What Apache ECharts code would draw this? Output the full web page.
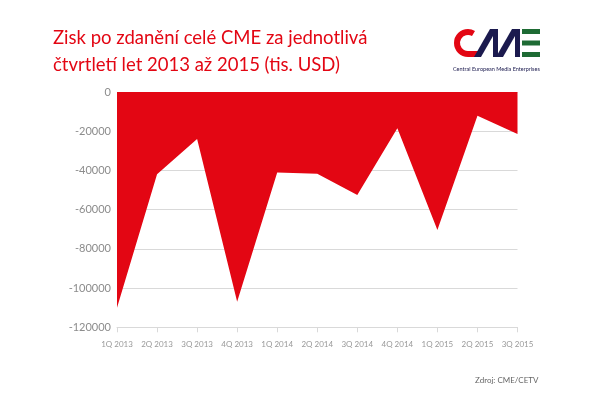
<!DOCTYPE html>
<html>
<head>
<meta charset="utf-8">
<script src="https://cdn.jsdelivr.net/npm/echarts@6/dist/echarts.min.js"></script>
<style>html,body{margin:0;padding:0;background:#fff}#c{width:600px;height:396px}</style>
</head>
<body>
<div id="c"></div>
<script>
const categories = ['1Q 2013','2Q 2013','3Q 2013','4Q 2013','1Q 2014','2Q 2014','3Q 2014','4Q 2014','1Q 2015','2Q 2015','3Q 2015'];
const profit = [-110000,-42000,-24000,-107000,-41000,-41700,-52500,-18500,-70400,-12100,-21400];
const yTicks = {min:-120000, max:0, interval:20000};
const titleText = 'Zisk po zdanění celé CME za jednotlivá\nčtvrtletí let 2013 až 2015 (tis. USD)';
const sourceText = 'Zdroj: CME/CETV';
const logoText = 'Central European Media Enterprises';

const red = '#E30613', navy = '#1B1A4E', green = '#1E6B34';
const chart = echarts.init(document.getElementById('c'), null, {renderer:'canvas'});
chart.setOption({
  animation:false,
  backgroundColor:'#fff',
  title:{text:titleText,left:48,top:20,textStyle:{color:red,fontFamily:'Lato',fontSize:18.5,fontWeight:'normal',lineHeight:27}},
  grid:{left:117,right:82.5,top:92,bottom:68.7,containLabel:false},
  xAxis:{type:'category',data:categories,boundaryGap:false,
    axisLine:{onZero:false,lineStyle:{color:'#d9d9d9'}},
    axisTick:{show:true,length:5,lineStyle:{color:'#d9d9d9'}},
    axisLabel:{color:'#999',fontFamily:'Lato',fontSize:8,margin:13,interval:0}},
  yAxis:{type:'value',min:yTicks.min,max:yTicks.max,interval:yTicks.interval,
    axisLine:{show:false},axisTick:{show:false},
    splitLine:{lineStyle:{color:'#d9d9d9',width:1}},
    axisLabel:{color:'#8c8c8c',fontFamily:'Lato',fontSize:11,margin:6,formatter:v=>String(v)}},
  series:[{type:'line',data:profit,symbol:'none',lineStyle:{width:0,color:red},
    areaStyle:{color:red,opacity:1,origin:'end'},z:1}],
  graphic:[
    {type:'sector',shape:{cx:468,cy:43,r:14,r0:8,startAngle:Math.PI/2,endAngle:Math.PI*5/3,clockwise:true},style:{fill:red}},
    {type:'rect',shape:{x:468,y:51,width:12,height:6},style:{fill:red}},
    {type:'polygon',shape:{points:[[474,57],[490,29],[497,29],[481,57]]},style:{fill:navy}},
    {type:'rect',shape:{x:493,y:29,width:5,height:28},style:{fill:navy}},
    {type:'polygon',shape:{points:[[496,57],[512,29],[519,29],[503,57]]},style:{fill:navy}},
    {type:'rect',shape:{x:515,y:29,width:5,height:28},style:{fill:navy}},
    {type:'rect',shape:{x:522,y:29,width:18,height:5},style:{fill:green}},
    {type:'rect',shape:{x:522,y:40.5,width:18,height:5},style:{fill:green}},
    {type:'rect',shape:{x:522,y:52,width:18,height:5},style:{fill:green}},
    {type:'text',left:453,top:66,style:{text:logoText,fill:navy,font:'5.5px Lato'}},
    {type:'text',left:475,top:376,style:{text:sourceText,fill:'#666',font:'8px Lato'}}
  ]
});
</script>
</body>
</html>
